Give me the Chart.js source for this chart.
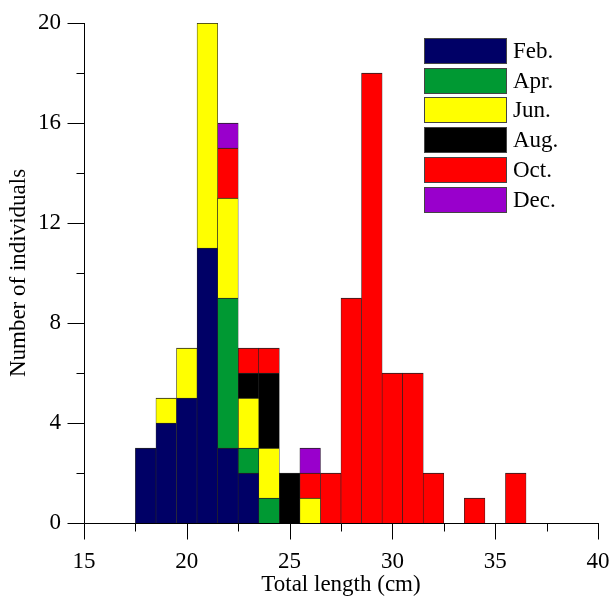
<!DOCTYPE html>
<html>
<head>
<meta charset="utf-8">
<title>Total length by month</title>
<script src="https://cdn.jsdelivr.net/npm/chart.js@4.4.0/dist/chart.umd.min.js"></script>
<style>
  html, body { margin: 0; padding: 0; background: #fff; }
</style>
</head>
<body>
<canvas id="lengthChart" width="611" height="599"></canvas>
<script>
// bin centres in cm (1 cm bins, 17.5 - 36.5)
const binCentres = [18, 19, 20, 21, 22, 23, 24, 25, 26, 27, 28, 29, 30, 31, 32, 33, 34, 35, 36];

// number of individuals per bin, one array per sampling month
const febCounts = [3, 4, 5, 11, 3, 2, 0, 0, 0, 0, 0, 0, 0, 0, 0, 0, 0, 0, 0];
const aprCounts = [0, 0, 0, 0, 6, 1, 1, 0, 0, 0, 0, 0, 0, 0, 0, 0, 0, 0, 0];
const junCounts = [0, 1, 2, 9, 4, 2, 2, 0, 1, 0, 0, 0, 0, 0, 0, 0, 0, 0, 0];
const augCounts = [0, 0, 0, 0, 0, 1, 3, 2, 0, 0, 0, 0, 0, 0, 0, 0, 0, 0, 0];
const octCounts = [0, 0, 0, 0, 2, 1, 1, 0, 1, 2, 9, 18, 6, 6, 2, 0, 1, 0, 2];
const decCounts = [0, 0, 0, 0, 1, 0, 0, 0, 1, 0, 0, 0, 0, 0, 0, 0, 0, 0, 0];

const monthLabels = ['Feb.', 'Apr.', 'Jun.', 'Aug.', 'Oct.', 'Dec.'];
const monthColours = ['#000066', '#009933', '#ffff00', '#000000', '#ff0000', '#9900cc'];
const monthCounts = [febCounts, aprCounts, junCounts, augCounts, octCounts, decCounts];

// axis ticks
const xMajorTicks = [15, 20, 25, 30, 35, 40];
const xMinorTicks = [17.5, 22.5, 27.5, 32.5, 37.5];
const yMajorTicks = [0, 4, 8, 12, 16, 20];
const yMinorTicks = [2, 6, 10, 14, 18];

const FONT = "'Liberation Serif', 'Times New Roman', serif";
Chart.defaults.font.family = FONT;
Chart.defaults.font.size = 23;
Chart.defaults.color = '#000';

// only keep non-empty bins so no zero-height bars get drawn
function toPoints(counts) {
    return binCentres
        .map((x, i) => ({ x: x, y: counts[i] }))
        .filter(p => p.y > 0);
}

const datasets = monthLabels.map((label, i) => ({
    label: label,
    data: toPoints(monthCounts[i]),
    backgroundColor: monthColours[i],
    borderColor: '#222',
    borderWidth: { top: 1, left: 0.6, right: 0.6, bottom: 0 },
    borderSkipped: 'start',
    barPercentage: 1,
    categoryPercentage: 1
}));

// axis lines + major/minor tick marks
const axesPlugin = {
    id: 'axesPlugin',
    afterDatasetsDraw(chart) {
        const { ctx, chartArea, scales } = chart;
        const xs = scales.x, ys = scales.y;
        const left = Math.round(chartArea.left) + 0.5;
        const bottom = Math.round(chartArea.bottom) + 0.5;
        ctx.save();
        ctx.strokeStyle = '#000';
        ctx.lineWidth = 1;
        ctx.beginPath();
        ctx.moveTo(left, Math.round(ys.getPixelForValue(20)));
        ctx.lineTo(left, bottom);
        ctx.lineTo(Math.round(xs.getPixelForValue(40)) + 1, bottom);
        // x ticks
        xMajorTicks.forEach(v => {
            const px = Math.round(xs.getPixelForValue(v)) + 0.5;
            ctx.moveTo(px, bottom);
            ctx.lineTo(px, bottom + 16);
        });
        xMinorTicks.forEach(v => {
            const px = Math.round(xs.getPixelForValue(v)) + 0.5;
            ctx.moveTo(px, bottom);
            ctx.lineTo(px, bottom + 8);
        });
        // y ticks
        yMajorTicks.forEach(v => {
            const py = Math.round(ys.getPixelForValue(v)) + 0.5;
            ctx.moveTo(left, py);
            ctx.lineTo(left - 17, py);
        });
        yMinorTicks.forEach(v => {
            const py = Math.round(ys.getPixelForValue(v)) + 0.5;
            ctx.moveTo(left, py);
            ctx.lineTo(left - 8, py);
        });
        ctx.stroke();
        ctx.restore();
    }
};

// legend box in the upper right of the plot
const legendPlugin = {
    id: 'boxLegend',
    afterDatasetsDraw(chart) {
        const { ctx, chartArea } = chart;
        const x0 = chartArea.right - 174;
        const y0 = chartArea.top + 15;
        const boxW = 83, boxH = 26, step = 29.7;
        ctx.save();
        ctx.font = '23px ' + FONT;
        ctx.textBaseline = 'middle';
        ctx.textAlign = 'left';
        chart.data.datasets.forEach((ds, i) => {
            const y = Math.round(y0 + i * step);
            ctx.fillStyle = ds.backgroundColor;
            ctx.fillRect(x0, y, boxW, boxH);
            ctx.strokeStyle = '#444';
            ctx.lineWidth = 1;
            ctx.strokeRect(x0 + 0.5, y + 0.5, boxW - 1, boxH - 1);
            ctx.fillStyle = '#000';
            ctx.fillText(ds.label, x0 + boxW + 6, y + boxH / 2 + 1);
        });
        ctx.restore();
    }
};

new Chart(document.getElementById('lengthChart'), {
    type: 'bar',
    data: { datasets: datasets },
    options: {
        responsive: false,
        devicePixelRatio: 1,
        animation: false,
        layout: { padding: { top: 23, right: 13, bottom: 0, left: 0 } },
        plugins: {
            legend: { display: false },
            tooltip: { enabled: false }
        },
        scales: {
            x: {
                type: 'linear',
                stacked: true,
                offset: false,
                min: 15,
                max: 40,
                grid: { display: false, drawTicks: false, offset: false },
                border: { display: false },
                ticks: { stepSize: 5, padding: 25, autoSkip: false },
                title: { display: true, text: 'Total length (cm)', padding: 0 },
                afterFit: s => {
                    s.height = 76;
                    s.paddingLeft = 0;
                    s.paddingRight = 0;
                }
            },
            y: {
                stacked: true,
                min: 0,
                max: 20,
                grid: { display: false, drawTicks: false },
                border: { display: false },
                ticks: { stepSize: 4, padding: 23 },
                title: { display: true, text: 'Number of individuals', padding: { top: 5, bottom: 0 } },
                afterFit: s => {
                    s.width = 84;
                    s.paddingTop = 0;
                    s.paddingBottom = 0;
                }
            }
        }
    },
    plugins: [axesPlugin, legendPlugin]
});
</script>
</body>
</html>
